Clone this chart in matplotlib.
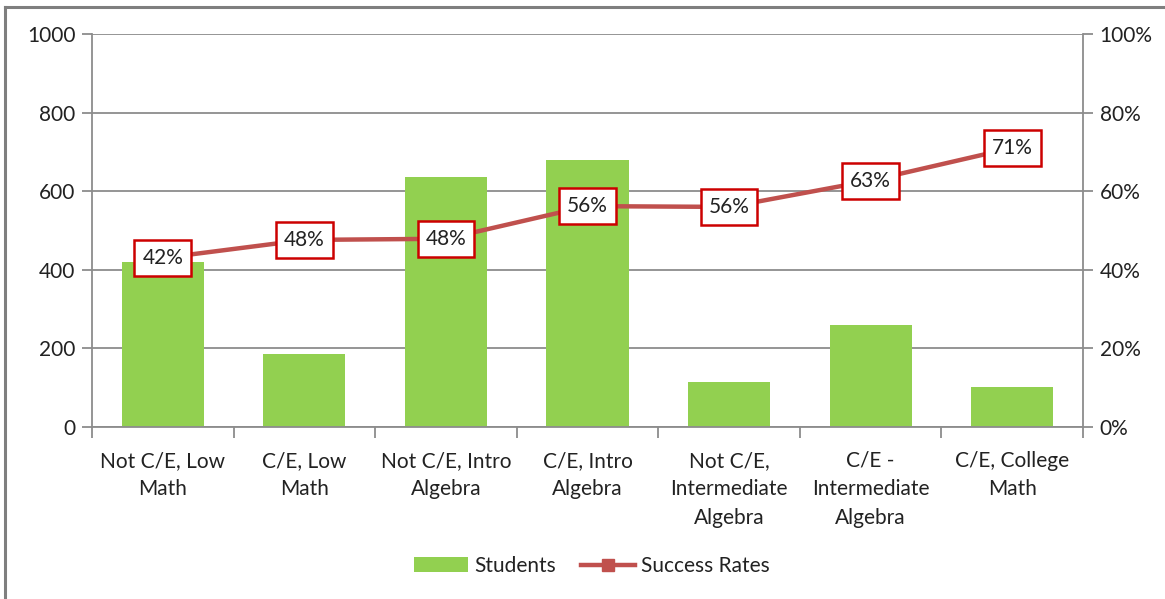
import matplotlib
matplotlib.use("Agg")
import matplotlib.pyplot as plt
import numpy as np
from matplotlib.lines import Line2D
from matplotlib.patches import Patch

CATEGORIES = [
    "Not C/E, Low\nMath",
    "C/E, Low\nMath",
    "Not C/E, Intro\nAlgebra",
    "C/E, Intro\nAlgebra",
    "Not C/E,\nIntermediate\nAlgebra",
    "C/E -\nIntermediate\nAlgebra",
    "C/E, College\nMath",
]
STUDENTS = [420, 186, 636, 680, 114, 260, 102]
SUCCESS = [0.43, 0.476, 0.479, 0.562, 0.56, 0.627, 0.71]
SUCCESS_LABELS = ["42%", "48%", "48%", "56%", "56%", "63%", "71%"]
LEFT_TICKS = [0, 200, 400, 600, 800, 1000]
RIGHT_TICKS = [0, 0.2, 0.4, 0.6, 0.8, 1.0]
RIGHT_TICK_LABELS = ["0%", "20%", "40%", "60%", "80%", "100%"]

GREEN = "#92D050"
LINE_RED = "#C0504D"
BOX_RED = "#CC0000"
GRID = "#8C8C8C"
TEXT = "#222222"
FS = 15

plt.rcParams["font.family"] = ["Lato", "DejaVu Sans"]

fig = plt.figure(figsize=(11.65, 5.99), dpi=100)
ax = fig.add_axes([92 / 1165, 1 - 427 / 599, (1083 - 92) / 1165, (427 - 34) / 599])
ax2 = ax.twinx()

x = np.arange(len(CATEGORIES))
ax.bar(x, STUDENTS, width=0.58, color=GREEN, zorder=2)
ax.set_ylim(0, 1000)
ax.set_xlim(-0.5, len(CATEGORIES) - 0.5)
ax.set_yticks(LEFT_TICKS)
ax.set_yticklabels([str(t) for t in LEFT_TICKS])
ax.yaxis.grid(True, color=GRID, lw=1.3, zorder=0)
ax.set_axisbelow(True)

ax.set_xticks(x)
ax.set_xticklabels(CATEGORIES, linespacing=1.55)
ax.set_xticks(np.arange(len(CATEGORIES) + 1) - 0.5, minor=True)
ax.tick_params(axis="x", which="major", length=0, pad=17, labelsize=FS, colors=TEXT)
ax.tick_params(axis="x", which="minor", length=8, width=1.3, color=GRID, direction="out")
ax.tick_params(axis="y", length=7, width=1.3, color=GRID, labelsize=FS, labelcolor=TEXT, pad=5)

for side in ["top", "right"]:
    ax.spines[side].set_visible(False)
    ax2.spines[side].set_visible(side == "right")
for side in ["left", "bottom"]:
    ax.spines[side].set_color(GRID)
    ax.spines[side].set_linewidth(1.3)
ax2.spines["right"].set_color(GRID)
ax2.spines["right"].set_linewidth(1.3)
ax2.spines["left"].set_visible(False)
ax2.spines["bottom"].set_visible(False)

ax2.plot(x, SUCCESS, color=LINE_RED, lw=3.2, marker="s", ms=9, zorder=3)
ax2.set_ylim(0, 1)
ax2.set_yticks(RIGHT_TICKS)
ax2.set_yticklabels(RIGHT_TICK_LABELS)
ax2.tick_params(axis="y", length=7, width=1.3, color=GRID, labelsize=FS, labelcolor=TEXT, pad=5)

for xi, yi, lab in zip(x, SUCCESS, SUCCESS_LABELS):
    ax2.text(xi, yi, lab, ha="center", va="center", fontsize=FS, color=TEXT, zorder=5,
             bbox=dict(boxstyle="square,pad=0.38", fc="white", ec=BOX_RED, lw=1.8))

handles = [
    Patch(facecolor=GREEN, edgecolor="none", label="Students"),
    Line2D([0], [0], color=LINE_RED, lw=3.2, marker="s", ms=9, label="Success Rates"),
]
fig.legend(handles=handles, loc="center", bbox_to_anchor=(0.508, 1 - 566 / 599), ncol=2,
           frameon=False, fontsize=FS, handlelength=2.6, columnspacing=1.2, handletextpad=0.3,
           labelcolor=TEXT)

# chart frame (only top and left edges are visible in the source)
fig.add_artist(Line2D([5 / 1165, 1], [1 - 7 / 599, 1 - 7 / 599], color="#7F7F7F", lw=2.2))
fig.add_artist(Line2D([5 / 1165, 5 / 1165], [0, 1 - 7 / 599], color="#7F7F7F", lw=2.2))

fig.savefig("out.png", dpi=100)
